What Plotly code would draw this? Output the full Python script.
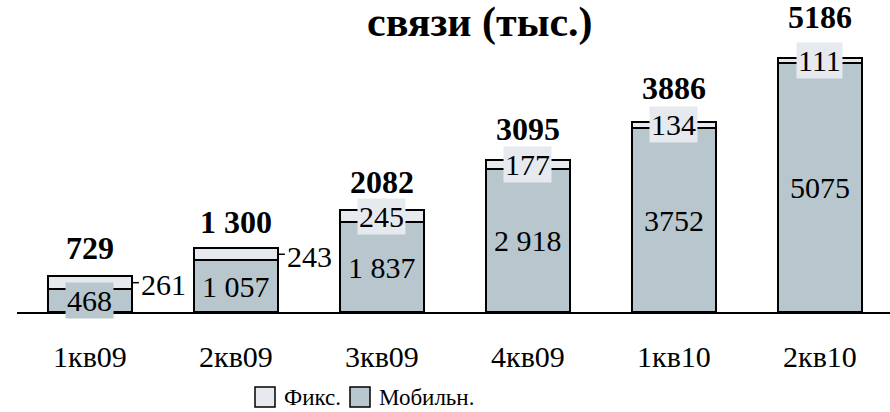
import plotly.graph_objects as go

quarters = ["1кв09", "2кв09", "3кв09", "4кв09", "1кв10", "2кв10"]
mobile = [468, 1057, 1837, 2918, 3752, 5075]
fixed = [261, 243, 245, 177, 134, 111]
mobile_text = ["468", "1 057", "1 837", "2 918", "3752", "5075"]
fixed_text = ["261", "243", "245", "177", "134", "111"]
total_text = ["729", "1 300", "2082", "3095", "3886", "5186"]
legend_names = ["Фикс.", "Мобильн."]

totals = [m + f for m, f in zip(mobile, fixed)]

MOB_COLOR = "rgb(184,198,205)"
FIX_COLOR = "rgb(230,234,239)"
FONT = "Times New Roman, Liberation Serif, DejaVu Serif, serif"
BAR_W = 0.57
W, H = 890, 412
ML, MR, MT, MB = 17, 0, 40, 100

fig = go.Figure()
fig.add_trace(go.Bar(x=quarters, y=mobile, name=legend_names[1], width=BAR_W,
                     marker=dict(color=MOB_COLOR, line=dict(color="black", width=2)),
                     showlegend=False))
fig.add_trace(go.Bar(x=quarters, y=fixed, name=legend_names[0], width=BAR_W,
                     marker=dict(color=FIX_COLOR, line=dict(color="black", width=2)),
                     showlegend=False))

annotations = []
# offsets (px) of the bold totals above each bar
total_shift = [8, 6, 8, 11, 14, 21]
for i, q in enumerate(quarters):
    # mobile value in the middle of its segment
    annotations.append(dict(x=q, y=mobile[i] / 2, text=mobile_text[i], showarrow=False,
                            font=dict(family=FONT, size=30, color="black"),
                            bgcolor=MOB_COLOR if i == 0 else "rgba(0,0,0,0)",
                            borderpad=1))
    # fixed value
    fy = mobile[i] + fixed[i] / 2
    if i < 2:
        annotations.append(dict(x=i + BAR_W / 2, y=fy, text=fixed_text[i], showarrow=False,
                                xanchor="left", xshift=7, yshift=-2,
                                font=dict(family=FONT, size=30, color="black")))
    else:
        annotations.append(dict(x=q, y=fy, text=fixed_text[i], showarrow=False,
                                font=dict(family=FONT, size=30, color="black"),
                                bgcolor=FIX_COLOR, borderpad=1))
    # bold total
    annotations.append(dict(x=q, y=totals[i], text="<b>" + total_text[i] + "</b>",
                            showarrow=False, yanchor="bottom", yshift=total_shift[i],
                            font=dict(family=FONT, size=32, color="black")))

shapes = []
for i in range(2):
    fy = mobile[i] + fixed[i] / 2
    shapes.append(dict(type="line", xref="x", yref="y",
                       x0=i + BAR_W / 2, x1=i + BAR_W / 2 + 0.05, y0=fy, y1=fy,
                       line=dict(color="black", width=1.5)))

# legend drawn below the axis: swatch + label
ph = H - MT - MB
def px_to_paper_y(py):
    return (H - MB - py) / ph
def px_to_paper_x(px):
    return (px - ML) / (W - ML - MR)

legend_items = [(legend_names[0], FIX_COLOR, 255), (legend_names[1], MOB_COLOR, 350)]
for name, col, x0 in legend_items:
    shapes.append(dict(type="rect", xref="paper", yref="paper",
                       x0=px_to_paper_x(x0), x1=px_to_paper_x(x0 + 20),
                       y0=px_to_paper_y(407), y1=px_to_paper_y(387),
                       fillcolor=col, line=dict(color="black", width=1.5)))
    annotations.append(dict(xref="paper", yref="paper", x=px_to_paper_x(x0 + 27),
                            y=px_to_paper_y(397), xanchor="left", yanchor="middle",
                            text=name, showarrow=False,
                            font=dict(family=FONT, size=23, color="black")))

annotations.append(dict(xref="paper", yref="paper", x=px_to_paper_x(480),
                        y=px_to_paper_y(22), xanchor="center", yanchor="middle",
                        text="<b>связи (тыс.)</b>", showarrow=False,
                        font=dict(family=FONT, size=42, color="black")))

fig.update_layout(
    barmode="stack",
    width=W, height=H,
    margin=dict(l=ML, r=MR, t=MT, b=MB),
    paper_bgcolor="white", plot_bgcolor="white",
    font=dict(family=FONT, color="black"),
    showlegend=False,
    annotations=annotations,
    shapes=shapes,
    xaxis=dict(range=[-0.5, 5.48], showline=True, linecolor="black", linewidth=2,
               ticks="", ticklabelstandoff=17, showgrid=False, zeroline=False,
               tickfont=dict(family=FONT, size=30, color="black")),
    yaxis=dict(range=[0, 5553], visible=False, showgrid=False, zeroline=False),
)

fig.write_html("out.html")
